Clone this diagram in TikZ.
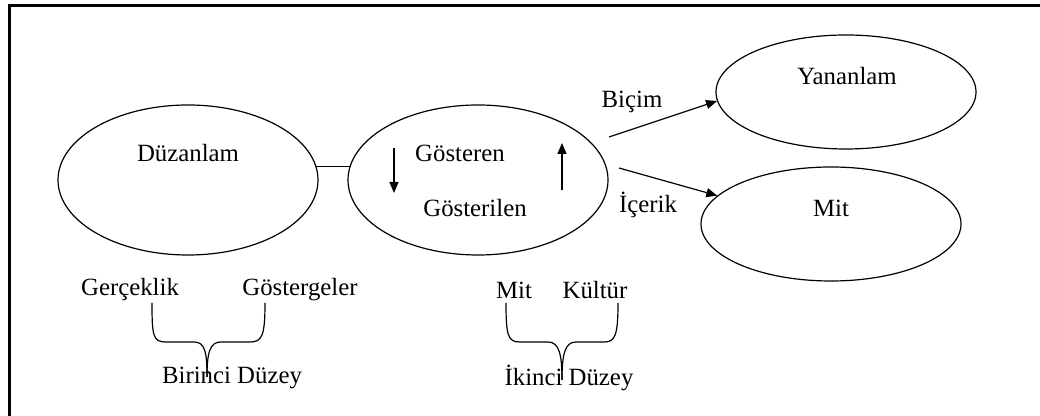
\documentclass[tikz,border=0pt]{standalone}
\usepackage{fontspec}
\setmainfont{Liberation Serif}
\usetikzlibrary{shapes.geometric,arrows.meta}

\tikzset{
  oval/.style={draw, ellipse, line width=0.6pt, inner sep=0pt,
    minimum width=130pt, minimum height=75pt},
  smalloval/.style={oval, minimum height=57pt},
  lbl/.style={inner sep=0pt, font=\fontsize{12.4}{14}\selectfont},
  arr/.style={-{Triangle[length=5.5pt,width=4.5pt]}, line width=0.6pt},
  brace/.style={line width=0.6pt}
}

\begin{document}
\begin{tikzpicture}[x=0.5pt,y=-0.5pt]
    \useasboundingbox (0,0) rectangle (1040,416);

    % Frame
    \draw[line width=1.1pt] (9.5,416) -- (9.5,5.5) -- (1040,5.5);

    % Ellipses
    \node[oval] (duz) at (188,180) {};
    \node[oval] (gos) at (478,180) {};
    \node[smalloval] (yan) at (846,92) {};
    \node[smalloval] (mit) at (831,224) {};

    % Texts inside
    \node[lbl] (duzt) at (188,153) {Düzanlam};
    \node[lbl] (gost) at (460,153) {Gösteren};
    \node[lbl] (gosl) at (475,208) {Gösterilen};
    \node[lbl] (yant) at (847,76) {Yananlam};
    \node[lbl] (mitt) at (831,208) {Mit};

    % Arrow labels
    \node[lbl] (bic) at (632,102) {Biçim};
    \node[lbl] (ice) at (648,205) {İçerik};

    % Levels
    \node[lbl] (ger) at (130,290) {Gerçeklik};
    \node[lbl] (gsg) at (300,290) {Göstergeler};
    \node[lbl] (bir) at (232,378) {Birinci Düzey};
    \node[lbl] (mitb) at (514,290) {Mit};
    \node[lbl] (kul) at (595,290) {Kültür};
    \node[lbl] (iki) at (569,378) {İkinci Düzey};

    % Connectors
    \draw[line width=0.6pt] (duz.6) -- (gos.174);
    \coordinate (bs) at (609,137);
    \coordinate (is) at (619,168);
    \draw[arr] (bs) -- (yan.184);
    \draw[arr] (is) -- (mit.166);

    % Signifier / signified arrows
    \coordinate (dntop) at (394,148);
    \coordinate (dnbot) at (394,193);
    \coordinate (upbot) at (562,190);
    \coordinate (uptop) at (562,143);
    \draw[arr] (dntop) -- (dnbot);
    \draw[arr] (upbot) -- (uptop);

    % Braces
    \draw[brace] (152,303) .. controls (152,336) and (153,342) .. (166,342) -- (194,342)
        .. controls (205,342) and (207,352) .. (207,377);
    \draw[brace] (265,303) .. controls (265,336) and (262,342) .. (250,342) -- (221,342)
        .. controls (210,342) and (207,352) .. (207,377);
    \draw[brace] (506,303) .. controls (506,336) and (508,342) .. (520,342) -- (548,342)
        .. controls (559,342) and (562,354) .. (562,380);
    \draw[brace] (618,303) .. controls (618,336) and (615,342) .. (604,342) -- (576,342)
        .. controls (565,342) and (562,354) .. (562,380);
\end{tikzpicture}
\end{document}
